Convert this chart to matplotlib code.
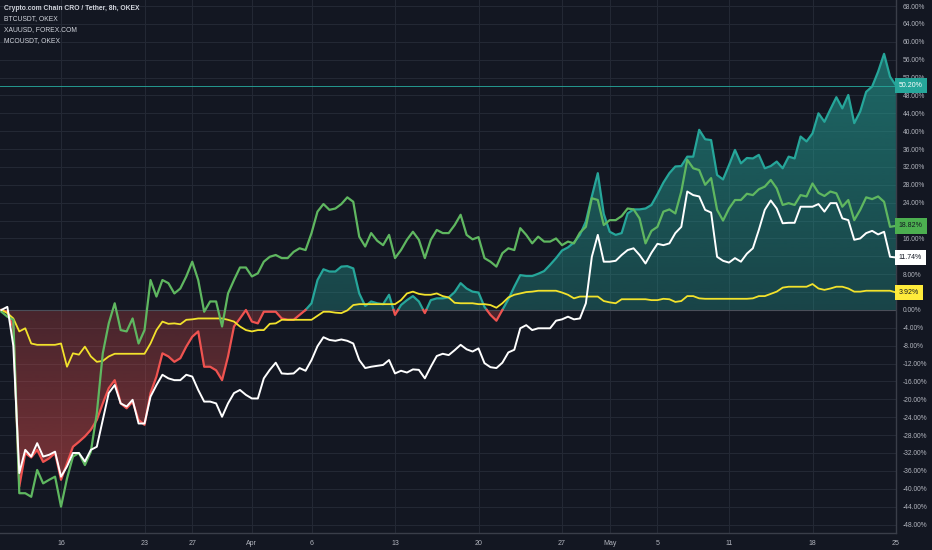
"""Recreate TradingView CRO/BTC/XAU/MCO percent comparison chart."""

import numpy as np
import pandas as pd
import matplotlib

matplotlib.use("Agg")
import matplotlib.pyplot as plt
import matplotlib.dates as mdates
from matplotlib.patches import Polygon
from matplotlib.transforms import blended_transform_factory

# 12h samples starting 2020-03-11, percent change vs first bar
start = "2020-03-11"
n_points = 151

cro_pct = [
    0, -0.4, -4, -39.5, -32, -33, -31.3, -34, -33.2, -32,
    -38, -34.3, -30.6, -29.5, -28.3, -26.8, -24.6, -20.9, -17.5, -15.7,
    -20.9, -22, -20.5, -24.6, -25.7, -18.6, -14.9, -9.7, -10.4, -11.6,
    -10.8, -8.2, -6, -4.8, -12.7, -12.7, -13.5, -15.7, -10.4, -3.7,
    -1.9, 0, -2.6, -3, -0.4, -0.4, -0.4, -1.9, -2.2, -2.2,
    -1.1, 0, 1.5, 6.7, 9.1, 8.6, 8.6, 9.7, 9.8, 9.3,
    3.7, 0.9, 1.9, 1.5, 1.3, 3.4, -1.1, 1.1, 2.2, 3.1,
    1.9, -0.7, 2.2, 2.6, 2.6, 2.8, 4, 6, 4.8, 4.1,
    3.9, 0.7, -1.1, -2.4, 0, 2.4, 5.2, 7.8, 7.6, 7.6,
    8.1, 8.7, 10.1, 11.6, 13.3, 14, 15.1, 16.8, 19.8, 25.4,
    30.6, 21.5, 17.5, 16.8, 17.2, 21.6, 22.5, 22.5, 22.7, 23.5,
    25.9, 28.5, 30.6, 32.1, 32.2, 34.3, 34.3, 40.3, 38.2, 38,
    30.2, 29.2, 32.4, 35.8, 32.8, 34, 33.9, 34.7, 31.7, 32.2,
    33.2, 31.7, 34.3, 33.9, 38.8, 37.7, 39.5, 44, 42.1, 44.9,
    47.6, 45.1, 48.1, 41.8, 44.4, 48.8, 50, 53.3, 57.3, 52.2,
    50.2,
]

btc_pct = [
    0, 0.7, -8, -36.5, -31.3, -32.8, -29.8, -32.8, -32.4, -31.7,
    -37.3, -35, -32, -32, -33.9, -31.3, -30.6, -24.6, -18.6, -16.8,
    -20.9, -21.6, -20.1, -25.4, -25.4, -19.4, -16.8, -14.5, -15.3, -15.7,
    -15.7, -14.5, -14.9, -17.9, -20.5, -20.5, -20.9, -23.9, -20.9, -18.6,
    -17.9, -19, -19.8, -19.8, -15.3, -13.4, -11.8, -14.2, -14.3, -14.2,
    -13, -13.6, -11.2, -8.1, -6.1, -6.7, -6.9, -6.6, -6.9, -7.5,
    -11.2, -13, -12.7, -12.5, -12.3, -11.2, -14.2, -13.6, -14, -13.3,
    -13.4, -15.3, -12.7, -10.3, -9.8, -10.1, -9, -7.8, -8.8, -9.3,
    -8.6, -11.9, -12.8, -13, -11.8, -9.5, -8.9, -4.1, -3.4, -4.5,
    -4.1, -4.1, -4.1, -2.4, -2.1, -1.5, -2.1, -1.9, 1.5, 11.9,
    16.8, 10.8, 10.8, 11, 12.3, 13.4, 13.8, 12.3, 10.4, 12.8,
    14.8, 14.5, 14.9, 17.2, 18.6, 26.5, 25.7, 25.4, 22.4, 21.8,
    11.9, 11, 10.6, 11.6, 10.8, 12.6, 13.8, 17.9, 22.4, 24.5,
    22.7, 19.4, 19.5, 19.5, 23.1, 23.1, 23.1, 23.7, 22, 23.9,
    23.9, 20.5, 20.1, 15.7, 16, 17.2, 17.7, 16.9, 17.5, 11.9,
    11.74,
]

xau_pct = [
    0, -0.7, -1.9, -4.8, -4.1, -7.5, -7.8, -7.8, -7.8, -7.8,
    -7.5, -12.7, -9.7, -10, -8.2, -10.4, -11.6, -11.4, -10.4, -9.8,
    -9.8, -9.8, -9.8, -9.8, -9.8, -7.5, -4.5, -2.6, -3.1, -3,
    -3.2, -2.2, -2.1, -1.9, -1.9, -1.9, -1.9, -1.9, -2.2, -2.6,
    -3.7, -4.5, -4.8, -4.5, -4.5, -3.1, -3, -2.2, -2.2, -2.2,
    -2.2, -2.2, -2.2, -1.3, -0.4, -0.4, -0.6, -0.7, -0.1, 1.1,
    1.3, 1.3, 1.3, 1.3, 1.3, 1.3, 1.3, 2.2, 3.7, 4.1,
    3.6, 3.4, 3.4, 3.7, 3.1, 2.8, 1.6, 1.5, 1.5, 1.5,
    1.3, 1.3, 1.1, 0.5, 1.5, 2.8, 3.4, 3.7, 4, 4.1,
    4.3, 4.3, 4.3, 4.3, 3.9, 3.4, 2.6, 3, 3, 3,
    3, 2, 1.7, 1.5, 2.4, 2.4, 2.4, 2.4, 2.4, 2.2,
    2.2, 2.5, 2.4, 1.8, 2, 3.1, 3.1, 2.6, 2.5, 2.5,
    2.5, 2.5, 2.5, 2.5, 2.5, 2.5, 2.6, 3.1, 3.1, 3.6,
    4.1, 5, 5.2, 5.2, 5.2, 5.2, 5.8, 4.8, 4.5, 4.8,
    5.2, 5.2, 4.8, 4.1, 4.1, 4.3, 4.3, 4.3, 4.3, 4.3,
    3.92,
]

mco_pct = [
    -0.4, -1.5, -2.2, -41, -41, -41.8, -35.8, -38.8, -38, -37.3,
    -44, -37.7, -32.8, -32, -34.7, -31.7, -23.1, -9.7, -3, 1.5,
    -4.5, -4.8, -1.9, -7.5, -4.5, 6.7, 3, 6.7, 6, 3.7,
    4.8, 7.5, 10.8, 6.7, -0.4, 1.9, 1.9, -3.7, 3.7, 6.7,
    9.5, 9.5, 7.5, 8.2, 10.8, 11.9, 12.3, 11.6, 11.6, 13,
    13.8, 13.4, 17.2, 22, 23.7, 22.4, 22.7, 23.7, 25.2, 24.2,
    16.4, 14.2, 17.2, 15.5, 14.5, 16.8, 11.6, 13.4, 15.7, 17.5,
    15.7, 11.6, 15.7, 17.9, 17.2, 17.2, 19, 21.3, 16.8, 15.8,
    16.3, 11.6, 10.8, 9.7, 12.7, 13.8, 13.4, 18.3, 16.8, 14.9,
    16.4, 15.3, 15.3, 16, 14.5, 15.3, 14.9, 17.3, 18.6, 25,
    24.6, 19, 20.1, 20.1, 21, 22.7, 22.5, 20.5, 14.9, 17.7,
    18.6, 22, 22.5, 21.6, 26.5, 33.6, 31.7, 31.3, 28, 29.5,
    22.4, 20, 22.7, 24.6, 24.6, 26, 25.7, 27, 27.6, 29.1,
    27.2, 23.5, 23.9, 23.5, 25.7, 25.4, 28.3, 26.2, 25.5, 26.5,
    26.1, 23.1, 24.6, 20.1, 22.4, 25.2, 24.8, 25.4, 24.2, 18.6,
    18.82,
]

legend_lines = [
    "Crypto.com Chain CRO / Tether, 8h, OKEX",
    "BTCUSDT, OKEX",
    "XAUUSD, FOREX.COM",
    "MCOUSDT, OKEX",
]
tick_dates = ["2020-03-16", "2020-03-23", "2020-03-27", "2020-04-01", "2020-04-06",
              "2020-04-13", "2020-04-20", "2020-04-27", "2020-05-01", "2020-05-05",
              "2020-05-11", "2020-05-18", "2020-05-25"]
tick_labels = ["16", "23", "27", "Apr", "6", "13", "20", "27", "May", "5", "11", "18", "25"]
y_ticks = list(range(-48, 69, 4))

BG = "#131722"
GRID = "#232834"
TEXT = "#b2b5be"
TEAL = "#26a69a"
RED = "#ef5350"
GREEN = "#5fb760"
YELLOW = "#f2e22c"
FONT = ["Liberation Sans", "DejaVu Sans"]


def add_zero_crossings(x, y):
    """Insert points where the line crosses zero so fills and colors split cleanly."""
    xs, ys = [x[0]], [y[0]]
    for i in range(1, len(y)):
        y0, y1 = y[i - 1], y[i]
        if y0 * y1 < 0:
            t = y0 / (y0 - y1)
            xs.append(x[i - 1] + t * (x[i] - x[i - 1]))
            ys.append(0.0)
        xs.append(x[i])
        ys.append(y1)
    return np.array(xs), np.array(ys)


def gradient_fill(ax, xs, y0, y1, rgb, a0, a1, clip_verts):
    grad = np.zeros((256, 1, 4))
    grad[:, 0, :3] = np.array(rgb) / 255.0
    grad[:, 0, 3] = np.linspace(a0, a1, 256)
    im = ax.imshow(grad, extent=[xs[0], xs[-1], y0, y1], origin="lower",
                   aspect="auto", zorder=1, interpolation="bilinear")
    poly = Polygon(clip_verts, closed=True, transform=ax.transData,
                   facecolor="none", edgecolor="none")
    im.set_clip_path(poly)


dates = pd.date_range(start, periods=n_points, freq="12h")
x = mdates.date2num(dates.to_pydatetime())
cro = np.array(cro_pct, dtype=float)

fig = plt.figure(figsize=(9.32, 5.5), dpi=100, facecolor=BG)
ax = fig.add_axes([0, 17 / 550, 896 / 932, 533 / 550])
ax.set_facecolor(BG)

x_left = mdates.date2num(pd.Timestamp(start)) - 0.117
x_right = mdates.date2num(pd.Timestamp(start)) + 74.99
y_lo, y_hi = -49.9, 69.35
ax.set_xlim(x_left, x_right)
ax.set_ylim(y_lo, y_hi)

# baseline area for CRO: teal above zero, red below
xs, ys = add_zero_crossings(x, cro)
top_verts = list(zip(xs, np.maximum(ys, 0))) + [(xs[-1], 0), (xs[0], 0)]
bot_verts = list(zip(xs, np.minimum(ys, 0))) + [(xs[-1], 0), (xs[0], 0)]
gradient_fill(ax, xs, 0, y_hi, (38, 166, 154), 0.32, 0.62, top_verts)
gradient_fill(ax, xs, y_lo, 0, (239, 83, 80), 0.52, 0.24, bot_verts)

ax.axhline(0, color="#4a4e59", lw=0.8, zorder=2)
ax.axhline(cro[-1], color=TEAL, lw=0.7, alpha=0.9, zorder=2)

ax.plot(xs, np.where(ys >= 0, ys, np.nan), color=TEAL, lw=1.6, zorder=3)
ax.plot(xs, np.where(ys <= 0, ys, np.nan), color=RED, lw=1.6, zorder=3)
ax.plot(x, xau_pct, color=YELLOW, lw=1.3, zorder=4)
ax.plot(x, btc_pct, color="white", lw=1.4, zorder=5)
ax.plot(x, mco_pct, color=GREEN, lw=1.6, zorder=4)

# axes styling
ax.set_xticks(mdates.date2num(pd.to_datetime(tick_dates).to_pydatetime()))
ax.set_xticklabels(tick_labels, fontsize=5, color=TEXT, family=FONT)
ax.set_yticks(y_ticks)
ax.set_yticklabels([f"{v:.2f}%" for v in y_ticks], fontsize=4.8, color=TEXT, family=FONT)
ax.yaxis.tick_right()
ax.tick_params(axis="both", length=0)
ax.tick_params(axis="y", pad=5)
ax.tick_params(axis="x", pad=5)
ax.grid(True, color=GRID, lw=0.8)
ax.set_axisbelow(True)
for side in ["top", "left"]:
    ax.spines[side].set_visible(False)
for side in ["right", "bottom"]:
    ax.spines[side].set_color("#3a3e49")
    ax.spines[side].set_linewidth(1.0)

# legend text
for i, line in enumerate(legend_lines):
    fig.text(4 / 932, 1 - (8 + 11 * i) / 550, line, fontsize=4.9, color="#d1d4dc",
             fontweight="bold" if i == 0 else "normal", family=FONT, va="center")

# last value boxes on price scale
trans = blended_transform_factory(ax.transAxes, ax.transData)
boxes = [
    (cro_pct[-1], TEAL, "white"),
    (mco_pct[-1], "#4caf50", BG),
    (btc_pct[-1], "white", BG),
    (xau_pct[-1], "#ffeb3b", BG),
]
for val, fc, tc in boxes:
    ax.text(1.003, val, f"{val:.2f}%", transform=trans, fontsize=5, color=tc,
            family=FONT, va="center", ha="left", clip_on=False, zorder=10,
            bbox=dict(boxstyle="square,pad=0.6", fc=fc, ec="none"))

fig.savefig("out.png", dpi=100, facecolor=BG)
